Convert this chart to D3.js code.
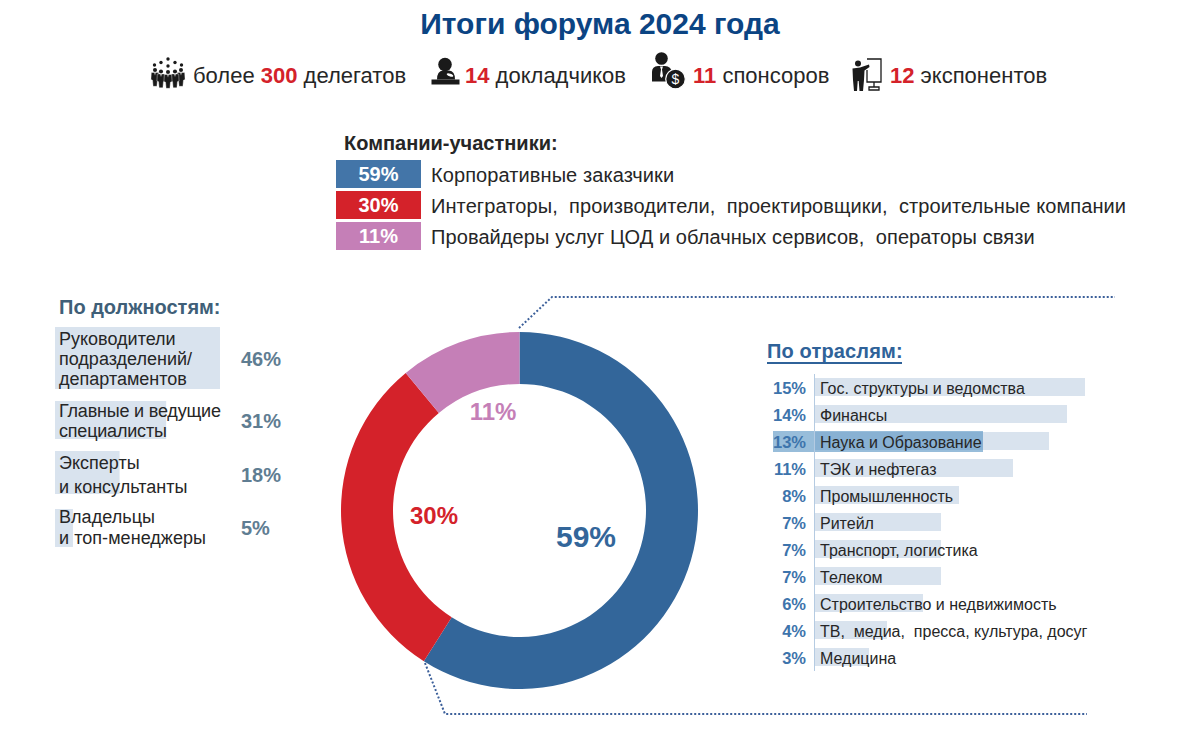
<!DOCTYPE html>
<html lang="ru"><head><meta charset="utf-8">
<script src="https://cdn.jsdelivr.net/npm/d3@7/dist/d3.min.js"></script>
<style>
html,body{margin:0;padding:0;background:#fff}
svg{display:block}
text{font-family:"Liberation Sans",Arial,sans-serif;fill:#262626}
</style></head><body><div id="chart"></div>
<script>
const titleText = "Итоги форума 2024 года";
const statNumbers = ["300","14","11","12"];
const statBefore = ["более ","","",""];
const statAfter = [" делегатов"," докладчиков"," спонсоров"," экспонентов"];
const companyHeading = "Компании-участники:";
const companyValues = [59,30,11];
const companyLabels = ["Корпоративные заказчики",
  "Интеграторы,  производители,  проектировщики,  строительные компании",
  "Провайдеры услуг ЦОД и облачных сервисов,  операторы связи"];
const companyColors = ["#33669a","#d4222a","#c57fb7"];
const legendColors = ["#4375a8","#d4222a","#c57fb7"];
const positionHeading = "По должностям:";
const positionValues = [46,31,18,5];
const positionLabels = [["Руководители","подразделений/","департаментов"],["Главные и ведущие","специалисты"],["Эксперты","и консультанты"],["Владельцы","и топ-менеджеры"]];
const industryHeading = "По отраслям:";
const industryValues = [15,14,13,11,8,7,7,7,6,4,3];
const industryLabels = ["Гос. структуры и ведомства","Финансы","Наука и Образование","ТЭК и нефтегаз","Промышленность","Ритейл","Транспорт, логистика","Телеком","Строительство и недвижимость","ТВ,  медиа,  пресса, культура, досуг","Медицина"];
const highlightedIndustry = "Наука и Образование";

const svg = d3.select("#chart").append("svg").attr("width",1200).attr("height",734).attr("viewBox","0 0 1200 734");
svg.style("white-space","pre");

/* title */
svg.append("text").attr("x",600).attr("y",34).attr("text-anchor","middle")
  .style("font-size","30px").style("font-weight","700").style("fill","#0b4483").text(titleText);

/* stat row */
const statX=[193,465,693,890];
const statG=svg.append("g");
statNumbers.forEach((n,i)=>{
  const t=statG.append("text").attr("x",statX[i]).attr("y",83).style("font-size","22px").attr("xml:space","preserve");
  if(statBefore[i]) t.append("tspan").text(statBefore[i]);
  t.append("tspan").style("font-weight","700").style("fill","#d4222a").text(n);
  t.append("tspan").text(statAfter[i]);
});

/* icons */
const ink="#1a1a1a";
function person(g,x,y,s){
  g.append("circle").attr("cx",x).attr("cy",y).attr("r",3*s).attr("fill",ink);
  g.append("path").attr("fill",ink).attr("stroke","#fff").attr("stroke-width",.4).attr("d",
   `M${x-5.4*s} ${y+3.6*s}L${x+5.4*s} ${y+3.6*s}L${x+6*s} ${y+14*s}L${x+3.6*s} ${y+15*s}L${x+2.8*s} ${y+24*s}L${x-2.8*s} ${y+24*s}L${x-3.6*s} ${y+15*s}L${x-6*s} ${y+14*s}Z`);
  g.append("path").attr("fill","#fff").attr("d",`M${x-1*s} ${y+3.6*s}L${x+1*s} ${y+3.6*s}L${x} ${y+8*s}Z`);
}
const ic1=svg.append("g");
[[168,59],[161,62.5],[175,62.5],[154.5,65],[181.5,65],[168,66]].forEach(d=>ic1.append("circle").attr("cx",d[0]).attr("cy",d[1]).attr("r",1.7).attr("fill",ink));
[[155,70,.68],[181,70,.68],[161,71.5,.68],[175,71.5,.68]].forEach(d=>person(ic1,d[0],d[1],d[2]));
person(ic1,168,72,.68);
const ic2=svg.append("g");
ic2.append("circle").attr("cx",445).attr("cy",64.5).attr("r",6.8).attr("fill",ink);
ic2.append("path").attr("fill",ink).attr("d","M437 79.5Q437 71 443 70.5L449 70.5Q455 71 455 79.5Z");
ic2.append("ellipse").attr("cx",450).attr("cy",75).attr("rx",3.4).attr("ry",1.4).attr("fill","#fff").attr("transform","rotate(20 450 75)");
ic2.append("rect").attr("x",431.5).attr("y",79.5).attr("width",28).attr("height",5).attr("fill",ink);
const ic3=svg.append("g");
ic3.append("circle").attr("cx",661.5).attr("cy",58.5).attr("r",6.3).attr("fill",ink);
ic3.append("path").attr("fill",ink).attr("d","M652 81.5L652 72Q652 66.5 658 66L665 66Q671 66.5 672 72L672 81.5Z");
ic3.append("path").attr("fill","#fff").attr("d","M660 66.5L663 66.5L662 69.5L663 76L661.5 78L660 76L661 69.5Z");
ic3.append("circle").attr("cx",675.5).attr("cy",79).attr("r",9.8).attr("fill",ink).attr("stroke","#fff").attr("stroke-width",1.2);
ic3.append("text").attr("x",675.5).attr("y",84).attr("text-anchor","middle").style("font-size","14px").style("fill","#fff").text("$");
const ic4=svg.append("g");
ic4.append("circle").attr("cx",858).attr("cy",63.5).attr("r",3).attr("fill",ink);
ic4.append("path").attr("fill",ink).attr("d","M852.5 68.5L860 67.5L869 64.5L869.5 67L864.5 70.5L864 80L863 91L859.5 91L858.7 81L857.7 81L857 91L854 91L853 80Z");
ic4.append("path").attr("fill","none").attr("stroke",ink).attr("stroke-width",1.3).attr("d","M867 59H881V82H867V70M874 82V87M869 87H879V90H869Z");

/* companies legend */
svg.append("text").attr("x",344).attr("y",150).style("font-size","20px").style("font-weight","700").text(companyHeading);
const legendY=d3.scaleBand().domain(d3.range(companyValues.length)).range([160,250]).paddingInner(3/31).paddingOuter(0);
const leg=svg.selectAll("g.leg").data(companyValues).join("g").attr("class","leg");
leg.append("rect").attr("x",336).attr("width",85).attr("y",(d,i)=>legendY(i)).attr("height",legendY.bandwidth()).attr("fill",(d,i)=>legendColors[i]);
leg.append("text").attr("x",378.5).attr("y",(d,i)=>legendY(i)+legendY.bandwidth()/2+7).attr("text-anchor","middle")
  .style("font-size","20px").style("font-weight","700").style("fill","#fff").text(d=>d+"%");
leg.append("text").attr("x",431).attr("y",(d,i)=>legendY(i)+legendY.bandwidth()/2+8).attr("xml:space","preserve")
  .style("font-size","20px").style("letter-spacing",".09px").text((d,i)=>companyLabels[i]);

/* donut */
const pie=d3.pie().sort(null).value(d=>d);
const arc=d3.arc().innerRadius(126.5).outerRadius(178.5);
const donut=svg.append("g").attr("transform","translate(519.5,510.5)");
donut.selectAll("path").data(pie(companyValues)).join("path").attr("d",arc).attr("fill",(d,i)=>companyColors[i]);
const donutLabelPos=[[586,547,30],[434,524,24],[493,420,24]];
svg.selectAll("text.dl").data(companyValues).join("text").attr("class","dl")
  .attr("x",(d,i)=>donutLabelPos[i][0]).attr("y",(d,i)=>donutLabelPos[i][1]).attr("text-anchor","middle")
  .style("font-size",(d,i)=>donutLabelPos[i][2]+"px").style("font-weight","700")
  .style("fill",(d,i)=>companyColors[i]).text(d=>d+"%");

/* dotted leaders */
const leader=d3.line();
[[[519,328],[552,297],[1115,297]],[[425,663],[445,714],[1087,714]]].forEach(p=>
  svg.append("path").attr("d",leader(p)).attr("fill","none").attr("stroke","#3b5f9a").attr("stroke-width",2).attr("stroke-dasharray","2 2"));

/* positions */
svg.append("text").attr("x",59).attr("y",314).style("font-size","20px").style("font-weight","700").style("fill","#3f5f78").text(positionHeading);
const posX=d3.scaleLinear().domain([0,46]).range([55,220]);
const posTop=[327,401,451,509],posBot=[389,439,494,547];
const posLines=[[345,365,385],[417,437],[469,493],[523,544]];
const posValY=[366,428,482,535];
const posSpacing=[0,-.2,0,.05];
const pg=svg.selectAll("g.pos").data(positionValues).join("g").attr("class","pos");
pg.append("rect").attr("x",55).attr("y",(d,i)=>posTop[i]).attr("height",(d,i)=>posBot[i]-posTop[i]).attr("width",d=>posX(d)-55).attr("fill","#d9e3ee");
pg.each(function(d,i){const g=d3.select(this);positionLabels[i].forEach((l,j)=>g.append("text").attr("x",59).attr("y",posLines[i][j]).style("font-size","18px").style("letter-spacing",posSpacing[i]+"px").text(l));});
pg.append("text").attr("x",241).attr("y",(d,i)=>posValY[i]).style("font-size","20px").style("font-weight","700").style("fill","#5f7d92").text(d=>d+"%");

/* industries */
svg.append("text").attr("x",767).attr("y",358).style("font-size","20px").style("font-weight","700").style("letter-spacing",".15px").style("fill","#2f6299").text(industryHeading);
svg.append("rect").attr("x",767).attr("y",362).attr("width",135).attr("height",2).attr("fill","#2f6299");
const indX=d3.scaleLinear().domain([0,15]).range([815,1085]);
const indY=d3.scaleBand().domain(industryLabels).range([378,666]).paddingInner(1/3).paddingOuter(0);
const ig=svg.selectAll("g.ind").data(industryValues).join("g").attr("class","ind");
ig.append("rect").attr("x",815).attr("y",(d,i)=>indY(industryLabels[i])).attr("width",d=>indX(d)-815).attr("height",indY.bandwidth()).attr("fill","#d9e3ee");
const hy=indY(highlightedIndustry);
svg.append("rect").attr("x",773).attr("y",hy-1).attr("width",210).attr("height",21).attr("fill","#4d8ebf").attr("fill-opacity",.58);
svg.append("line").attr("x1",814.5).attr("x2",814.5).attr("y1",374).attr("y2",671).attr("stroke","#b5cbe2").attr("stroke-width",1);
const ig2=svg.selectAll("g.indt").data(industryValues).join("g").attr("class","indt");
ig2.append("text").attr("x",806).attr("y",(d,i)=>indY(industryLabels[i])+16).attr("text-anchor","end").style("font-size","16.5px").style("font-weight","700").style("fill","#3d74ac").text(d=>d+"%");
ig2.append("text").attr("x",820).attr("y",(d,i)=>indY(industryLabels[i])+16).attr("xml:space","preserve").style("font-size","16px").text((d,i)=>industryLabels[i]);
</script></body></html>
